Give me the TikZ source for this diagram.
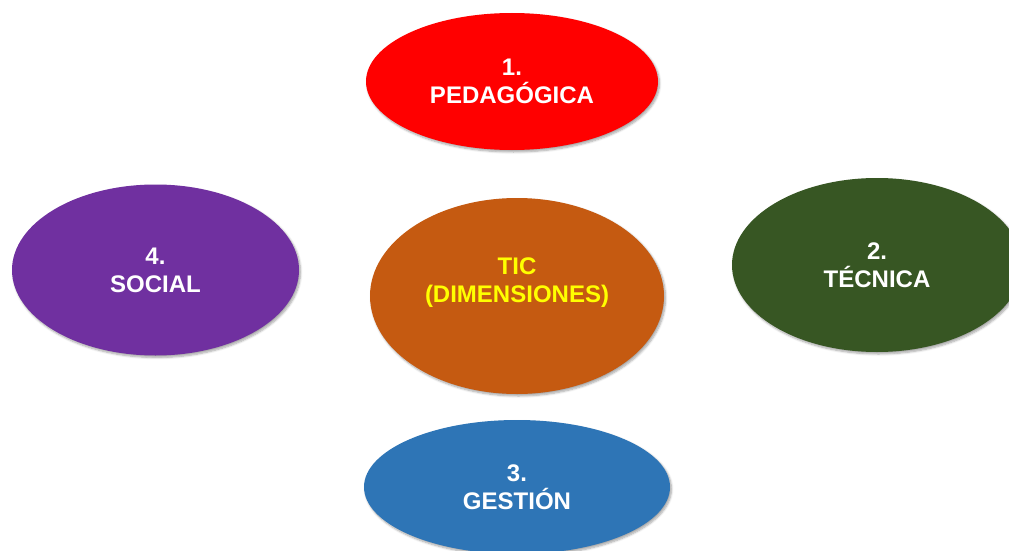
\documentclass[tikz,border=0pt]{standalone}
\usepackage{fontspec}
\setmainfont{Liberation Sans}
\usetikzlibrary{shapes.geometric,shadows.blur}
\definecolor{cRed}{HTML}{FF0000}
\definecolor{cPurple}{HTML}{7030A0}
\definecolor{cOrange}{HTML}{C55A11}
\definecolor{cGreen}{HTML}{375623}
\definecolor{cBlue}{HTML}{2E75B6}
\definecolor{cYellow}{HTML}{FFFF00}
\begin{document}
\begin{tikzpicture}[x=1pt,y=-1pt,
  dim/.style={ellipse, inner sep=0pt, draw=none, align=center,
    font=\fontsize{24}{28}\selectfont\bfseries, text=white,
    blur shadow={shadow xshift=1.5pt, shadow yshift=-2pt, shadow blur steps=6, shadow opacity=35}},
  lbl/.style={align=center, inner sep=0pt, font=\fontsize{24}{28}\selectfont\bfseries}]
\useasboundingbox (0,0) rectangle (1009,551);
\clip (0,0) rectangle (1009,551);
\node[dim, fill=cRed, minimum width=292pt, minimum height=137pt] (ped) at (512,81.5) {1.\\PEDAGÓGICA};
\node[dim, fill=cPurple, minimum width=287pt, minimum height=171pt] (soc) at (155.5,270) {4.\\SOCIAL};
\node[dim, fill=cOrange, minimum width=294pt, minimum height=196pt] (tic) at (517,296) {};
\node[lbl, text=cYellow] (ticlbl) at (517,283) {TIC\\(DIMENSIONES)};
\node[dim, fill=cGreen, minimum width=290pt, minimum height=174pt] (tec) at (877,265) {2.\\TÉCNICA};
\node[dim, fill=cBlue, minimum width=306pt, minimum height=134pt] (ges) at (517,487) {3.\\GESTIÓN};
\end{tikzpicture}
\end{document}
